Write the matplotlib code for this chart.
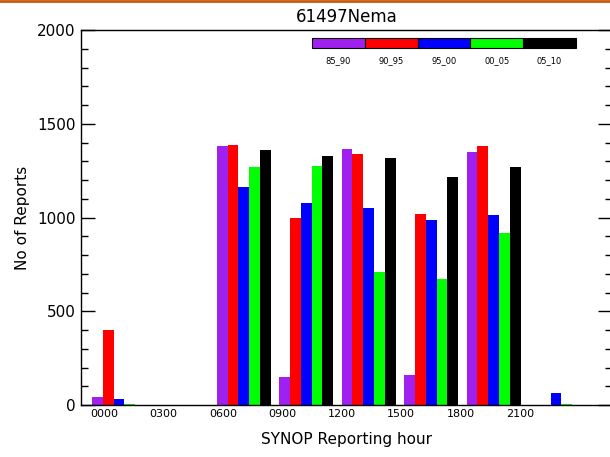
import matplotlib
matplotlib.use("Agg")
import matplotlib.pyplot as plt
import numpy as np
from matplotlib.patches import Rectangle
from matplotlib.lines import Line2D
from matplotlib.ticker import MultipleLocator

hours = ["0000", "0300", "0600", "0900", "1200", "1500", "1800", "2100"]
periods = ["85_90", "90_95", "95_00", "00_05", "05_10"]
colors = ["#A020F0", "#FF0000", "#0000FF", "#00FF00", "#000000"]
v85_90 = [45, 0, 1380, 150, 1365, 160, 1350, 0]
v90_95 = [400, 0, 1385, 995, 1340, 1020, 1380, 0]
v95_00 = [30, 0, 1165, 1075, 1050, 985, 1015, 65]
v00_05 = [5, 0, 1270, 1275, 710, 670, 915, 5]
v05_10 = [0, 0, 1360, 1330, 1315, 1215, 1270, 0]
series = [v85_90, v90_95, v95_00, v00_05, v05_10]

W, H = 610, 457
fig = plt.figure(figsize=(W / 100, H / 100), dpi=100)
ax = fig.add_axes([81 / W, 1 - 405 / H, (612 - 81) / W, (405 - 30) / H])

bw = 0.173
x = np.arange(len(hours))
for j, (vals, c) in enumerate(zip(series, colors)):
    ax.bar(x + j * bw, vals, width=bw, align="edge", color=c, linewidth=0)

ax.set_xlim(-0.176, 8.33)
ax.set_ylim(0, 2000)
ax.set_xticks(0.192 + x * 20 / 21)
ax.set_xticklabels(hours, fontsize=8)
ax.tick_params(axis="x", length=0, pad=3)
ax.yaxis.set_major_locator(MultipleLocator(500))
ax.yaxis.set_minor_locator(MultipleLocator(100))
ax.tick_params(axis="y", which="major", direction="in", length=10, width=1,
               right=True, labelsize=11, pad=4)
ax.tick_params(axis="y", which="minor", direction="in", length=5, width=1, right=True)
for s in ax.spines.values():
    s.set_linewidth(1)
ax.set_title("61497Nema", fontsize=12, pad=6)
ax.set_xlabel("SYNOP Reporting hour", fontsize=11, labelpad=9)
ax.set_ylabel("No of Reports", fontsize=11, labelpad=5)

# legend colour bar
lx0, segw, ly0, lh = 312, 52.8, 38, 10
for k, (lab, c) in enumerate(zip(periods, colors)):
    fig.patches.append(Rectangle(((lx0 + k * segw) / W, 1 - (ly0 + lh) / H),
                                 segw / W, lh / H, transform=fig.transFigure,
                                 facecolor=c, edgecolor="black", linewidth=0.8))
    fig.text((lx0 + (k + 0.5) * segw) / W, 1 - 61 / H, lab, fontsize=6,
             ha="center", va="center")

# top decoration line
fig.lines.append(Line2D([0, 1], [1 - 1 / H, 1 - 1 / H], transform=fig.transFigure,
                        color="#C55A11", linewidth=2))

fig.savefig("out.png", dpi=100)
